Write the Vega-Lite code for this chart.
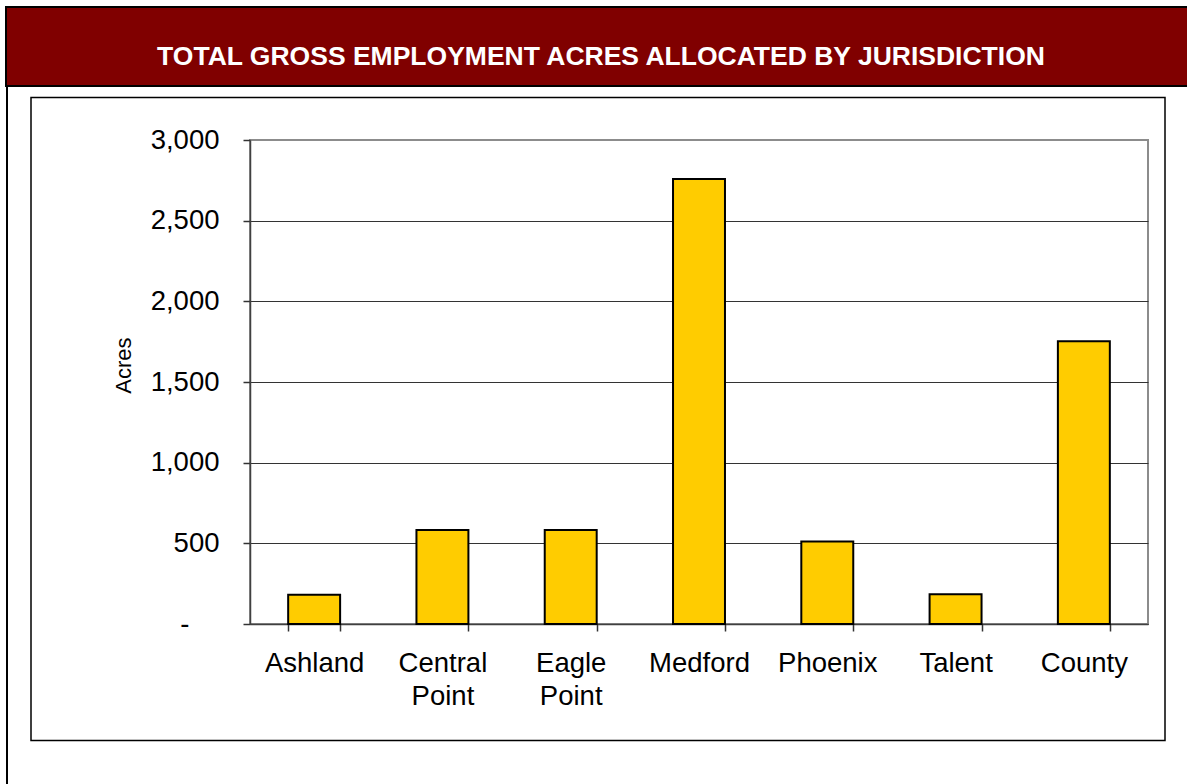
{
  "$schema": "https://vega.github.io/schema/vega-lite/v6.json",
  "background": "#ffffff",
  "padding": {"left": 5, "top": 6, "right": 0, "bottom": 0},
  "config": {
    "view": {"stroke": null},
    "font": "Liberation Sans"
  },
  "spacing": 0,
  "bounds": "flush",
  "hconcat": [
    {
      "bounds": "flush",
      "vconcat": [
        {
          "width": 2,
          "height": 777,
          "data": {"values": []},
          "mark": "point",
          "view": {"fill": "#000000", "stroke": null}
        }
      ]
    },
    {
      "spacing": 11.5,
      "bounds": "flush",
      "vconcat": [
        {
          "width": 1182,
          "height": 79,
          "view": {"fill": "#800000", "stroke": "#000000", "strokeWidth": 2, "strokeDash": [1182, 79, 1500]},
          "data": {"values": [{"title": "TOTAL GROSS EMPLOYMENT ACRES ALLOCATED BY JURISDICTION"}]},
          "mark": {"type": "text", "font": "Liberation Sans", "fontSize": 26.5, "fontWeight": "bold", "fill": "#ffffff", "align": "center", "baseline": "middle", "dx": 4, "dy": 10},
          "encoding": {"text": {"field": "title", "type": "nominal"}}
        },
        {
          "spacing": 24,
          "bounds": "flush",
          "hconcat": [
            {
              "width": 1,
              "height": 1,
              "data": {"values": []},
              "mark": "point",
              "view": {"stroke": null}
            },
            {
              "spacing": 42.5,
              "bounds": "flush",
              "vconcat": [
                {
                  "bounds": "flush",
                  "vconcat": [
                    {
                      "width": 1134,
                      "height": 643,
                      "data": {"values": []},
                      "mark": "point",
                      "view": {"stroke": "#000000", "strokeWidth": 1.5, "fill": "#ffffff"}
                    }
                  ]
                },
                {
                  "spacing": 218,
                  "bounds": "flush",
                  "hconcat": [
                    {
                      "width": 1,
                      "height": 1,
                      "data": {"values": []},
                      "mark": "point",
                      "view": {"stroke": null}
                    },
                    {
                      "width": 898,
                      "height": 484,
                      "view": {"stroke": "#8c8c8c", "strokeWidth": 2},
                      "data": {"values": [
                        {"jurisdiction": "Ashland", "acres": 182},
                        {"jurisdiction": "Central Point", "acres": 583},
                        {"jurisdiction": "Eagle Point", "acres": 583},
                        {"jurisdiction": "Medford", "acres": 2758},
                        {"jurisdiction": "Phoenix", "acres": 512},
                        {"jurisdiction": "Talent", "acres": 185},
                        {"jurisdiction": "County", "acres": 1752}
                      ]},
                      "mark": {"type": "bar", "fill": "#ffcc00", "stroke": "#000000", "strokeWidth": 2},
                      "encoding": {
                        "x": {
                          "field": "jurisdiction",
                          "type": "nominal",
                          "sort": null,
                          "scale": {"paddingInner": 0.595, "paddingOuter": 0.2975},
                          "axis": {
                            "title": null,
                            "labelAngle": 0,
                            "labelFont": "Liberation Sans",
                            "labelFontSize": 27.5,
                            "labelColor": "#000000",
                            "labelPadding": 18,
                            "labelBaseline": "top",
                            "labelExpr": "split(datum.label, ' ')",
                            "labelLineHeight": 33,
                            "tickBand": "extent",
                            "tickSize": 7,
                            "tickColor": "#333333",
                            "tickWidth": 1.5,
                            "domainColor": "#404040",
                            "domainWidth": 1.5,
                            "grid": false
                          }
                        },
                        "y": {
                          "field": "acres",
                          "type": "quantitative",
                          "scale": {"domain": [0, 3000], "nice": false},
                          "axis": {
                            "title": "Acres",
                            "titleFont": "Liberation Sans",
                            "titleFontSize": 22,
                            "titleFontWeight": "normal",
                            "titleColor": "#000000",
                            "titlePadding": 15,
                            "titleY": 225,
                            "values": [0, 500, 1000, 1500, 2000, 2500, 3000],
                            "labelExpr": "datum.value === 0 ? '-' : format(datum.value, ',')",
                            "labelFont": "Liberation Sans",
                            "labelFontSize": 27.5,
                            "labelColor": "#000000",
                            "labelPadding": {"condition": {"test": "datum.value === 0", "value": 54}, "value": 24},
                            "tickSize": 7,
                            "tickColor": "#333333",
                            "tickWidth": 1.5,
                            "domainColor": "#404040",
                            "domainWidth": 1.5,
                            "grid": true,
                            "gridColor": {"condition": {"test": "datum.value === 3000", "value": "#8c8c8c"}, "value": "#333333"},
                            "gridWidth": 1
                          }
                        }
                      }
                    }
                  ]
                }
              ]
            }
          ]
        }
      ]
    }
  ]
}
